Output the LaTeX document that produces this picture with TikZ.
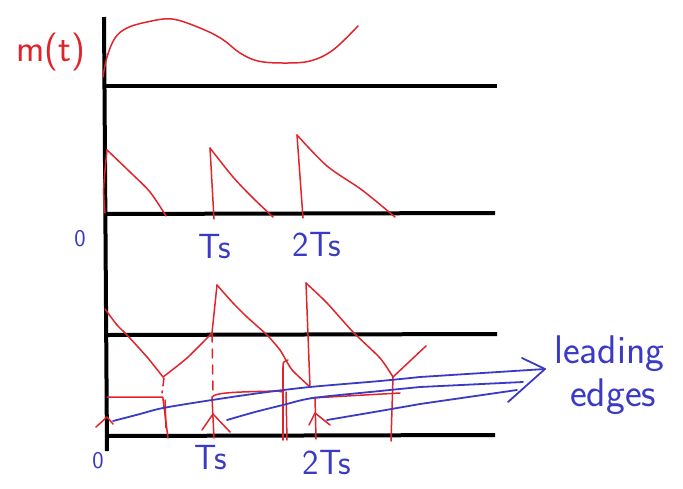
\documentclass[tikz,border=0pt]{standalone}
\usepackage{fontspec}
\usetikzlibrary{calc}
\definecolor{pen}{RGB}{224,36,44}
\definecolor{ink}{RGB}{58,58,196}
\tikzset{
  axisline/.style={line width=4pt,black},
  redpen/.style={pen,line width=1.5pt,line cap=round,line join=round},
  bluepen/.style={ink,line width=1.8pt,line cap=round,line join=round},
  redlbl/.style={text=pen,font=\sffamily\fontsize{38}{40}\selectfont,inner sep=0pt},
  bluelbl/.style={text=ink,font=\sffamily\fontsize{35}{37}\selectfont,inner sep=0pt},
  edgelbl/.style={text=ink,font=\sffamily\fontsize{40}{42}\selectfont,inner sep=0pt},
  zerolbl/.style={text=ink,font=\sffamily\fontsize{24}{26}\selectfont,inner sep=0pt}
}
\begin{document}
\begin{tikzpicture}[x=1pt,y=-1pt]
\useasboundingbox (0,0) rectangle (683,488);
% axes
\coordinate (axtop) at (104,17);
\coordinate (axbot) at (107,451);
\draw[axisline] (axtop) -- (axbot);
\coordinate (h1a) at (104,86);  \coordinate (h1b) at (497,86);
\coordinate (h2a) at (105,214); \coordinate (h2b) at (495,213);
\coordinate (h3a) at (107,335); \coordinate (h3b) at (497,334);
\coordinate (h4a) at (107,436); \coordinate (h4b) at (495,435);
\draw[axisline] (h1a) -- (h1b);
\draw[axisline] (h2a) -- (h2b);
\draw[axisline] (h3a) -- (h3b);
\draw[axisline] (h4a) -- (h4b);
% m(t)
\draw[redpen] plot[smooth,tension=0.6] coordinates {(103,77)(107,57)(115,38)(127,28)(147,22)(172,19)(200,28)(222,39)(240,53)(258,61)(283,63)(310,61)(333,50)(358,26)};
\node[redlbl] (mlbl) at (51,52) {m(t)};
% natural samples
\draw[redpen] (105,213) .. controls (103,190) .. (107,150);
\draw[redpen] plot[smooth,tension=0.5] coordinates {(107,150)(130,172)(150,192)(166,216)};
\draw[redpen] (214,219) -- (210,148);
\draw[redpen] plot[smooth,tension=0.5] coordinates {(210,148)(233,177)(253,198)(273,217)};
\draw[redpen] (303,218) -- (297,135);
\draw[redpen] plot[smooth,tension=0.5] coordinates {(297,135)(327,166)(362,190)(395,217)};
\node[zerolbl] (zero1) at (80,239) {0};
\node[bluelbl] (ts1) at (215,247) {Ts};
\node[bluelbl] (tts1) at (317,245) {2Ts};
% flat-top / bottom graph
\draw[redpen] plot[smooth,tension=0.4] coordinates {(105,309)(117,325)(127,335)(147,357)(163,377)};
\draw[redpen] plot[smooth,tension=0.4] coordinates {(163,377)(187,358)(212,333)};
\draw[redpen] (212,333) -- (217,285);
\draw[redpen] plot[smooth,tension=0.4] coordinates {(217,285)(233,303)(247,317)(267,335)(280,350)(287,362)(293,371)(310,387)};
\draw[redpen] (283,367) .. controls (283,362) .. (288,360);
\draw[redpen] (310,387) -- (306,283);
\draw[redpen] plot[smooth,tension=0.4] coordinates {(306,283)(327,303)(353,332)(380,358)(393,377)};
\draw[redpen] plot[smooth,tension=0.4] coordinates {(393,377)(410,361)(426,346)};
% dashed guides
\draw[redpen,dash pattern=on 9pt off 7pt] (212,333) -- (213,390);
\draw[redpen,dash pattern=on 8pt off 5pt] (164,378) -- (162,393);
% hold lines
\draw[redpen] (107,397) -- (161,397) .. controls (163,397) .. (163,399) -- (168,438);
\draw[redpen] (165,400) -- (166,428);
\draw[redpen] (212,397) .. controls (216,392) and (240,392) .. (277,391) -- (283,392);
\draw[redpen] (283,367) -- (283,440);
\draw[redpen] (286,392) -- (287,440);
\draw[redpen] (311,398) -- (400,393);
\draw[redpen] (393,377) -- (391,441);
% up arrows (sampling instants)
\draw[redpen] (96,427) -- (107,417) -- (113,424);
\draw[redpen] (214,438) -- (212,397);
\draw[redpen] (202,430) -- (213,414) -- (230,432);
\draw[redpen] (316,439) -- (315,397);
\draw[redpen] (309,425) -- (315,413) -- (330,425);
% blue leading-edge arrows
\coordinate (tip) at (545,369);
\draw[bluepen] plot[smooth,tension=0.5] coordinates {(113,421)(140,414)(163,408)(212,400)(260,393)(310,387)(380,381)(420,377)} -- (tip);
\draw[bluepen] plot[smooth,tension=0.5] coordinates {(227,420)(255,412)(283,405)(313,398)(380,391)(420,387)} -- (523,382);
\draw[bluepen] plot[smooth,tension=0.5] coordinates {(327,420)(380,411)(420,404)} -- (517,390);
\draw[bluepen] (522,358) -- (tip) -- (508,402);
\node[zerolbl] (zero2) at (98,461) {0};
\node[bluelbl] (ts2) at (211,458) {Ts};
\node[bluelbl] (tts2) at (327,463) {2Ts};
\node[edgelbl,anchor=west] (lead) at (554,354) {leading};
\node[edgelbl,anchor=west] (edge) at (570,397) {edges};
\end{tikzpicture}
\end{document}
